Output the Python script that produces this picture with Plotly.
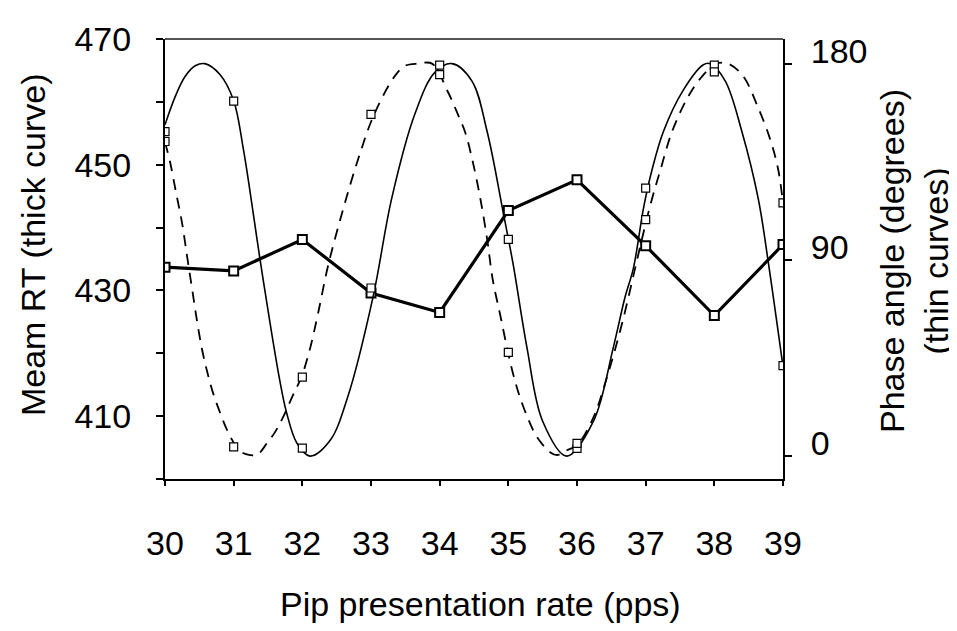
import plotly.graph_objects as go

# ---- data ----
rates = [30, 31, 32, 33, 34, 35, 36, 37, 38, 39]
mean_rt = [433.7, 433.1, 438.1, 429.6, 426.5, 442.7, 447.6, 437.1, 426.0, 437.3]
phase_solid_pts = [148.8, 162.8, 3.7, 77.1, 179.3, 99.4, 3.5, 122.9, 179.3, 41.5]
phase_dashed_pts = [144.3, 4.2, 36.2, 156.7, 175.0, 47.6, 5.8, 108.5, 176.2, 116.1]

solid_curve_x = [30.00, 30.15, 30.29, 30.44, 30.58, 30.80, 31.00, 31.14, 31.24, 31.38,
                 31.53, 31.67, 31.77, 31.92, 32.11, 32.40, 32.66, 33.03, 33.30, 33.64,
                 33.93, 34.18, 34.47, 34.69, 34.93, 35.07, 35.27, 35.50, 35.85, 36.24,
                 36.53, 36.70, 36.82, 36.97, 37.09, 37.26, 37.55, 37.84, 37.94, 38.16,
                 38.40, 38.64, 38.79, 38.93, 39.00]
solid_curve_deg = [152, 165, 174, 179, 180, 175, 163, 141, 121, 91,
                   61, 35, 20, 6, 0, 7, 27, 73, 118, 157,
                   176, 180, 172, 149, 111, 88, 50, 16, 0, 16,
                   50, 73, 86, 114, 131, 149, 168, 179.5, 180, 172,
                   149, 118, 88, 57, 41]

dashed_curve_x = [30.000, 30.073, 30.160, 30.248, 30.320, 30.393, 30.466, 30.539, 30.612, 30.699,
                  30.801, 30.903, 31.034, 31.136, 31.238, 31.340, 31.485, 31.602, 31.718, 31.849,
                  31.995, 32.112, 32.228, 32.374, 32.578, 32.811, 33.044, 33.349, 33.495, 33.684,
                  33.888, 34.121, 34.267, 34.369, 34.471, 34.587, 34.689, 34.776, 34.878, 34.980,
                  35.068, 35.170, 35.315, 35.417, 35.607, 35.709, 35.854, 36.000, 36.233, 36.422,
                  36.655, 36.888, 37.063, 37.209, 37.384, 37.602, 37.791, 38.024, 38.199, 38.417,
                  38.621, 38.810, 38.927, 39.000]
dashed_curve_deg = [144, 135, 121, 107, 92, 77, 62, 49, 39, 29,
                    20, 12, 4.6, 1.4, 0.5, 0.5, 5.9, 11, 17.8, 26.9,
                    37, 49.3, 65.3, 87.2, 111.4, 136, 156.6, 174.4, 179, 180,
                    180, 167, 156.6, 148.8, 136.5, 119, 100, 80.3, 65.3, 49.8,
                    37.9, 26.9, 15.1, 8.7, 1.8, 0.5, 2.7, 5, 17.3, 34.7,
                    60.7, 91.8, 114.6, 130.6, 148.8, 163.9, 173, 179.9, 180, 174.4,
                    161.1, 145.6, 131.9, 116]

rt_ticks = [400, 410, 420, 430, 440, 450, 460, 470]
rt_ticktext = ["", "410", "", "430", "", "450", "", "470"]
phase_ticks = [0, 90, 180]

FONT = "Liberation Sans, Arial, Helvetica, sans-serif"
FS = 34

fig = go.Figure()

fig.add_trace(go.Scatter(x=solid_curve_x, y=solid_curve_deg, yaxis="y2", mode="lines",
                         line=dict(color="black", width=1.6, shape="spline", smoothing=1.0),
                         showlegend=False, hoverinfo="skip"))
fig.add_trace(go.Scatter(x=dashed_curve_x, y=dashed_curve_deg, yaxis="y2", mode="lines",
                         line=dict(color="black", width=1.8, dash="11px,8px", shape="spline", smoothing=1.0),
                         showlegend=False, hoverinfo="skip"))
fig.add_trace(go.Scatter(x=rates, y=phase_solid_pts, yaxis="y2", mode="markers",
                         marker=dict(symbol="square", size=8, color="white",
                                     line=dict(color="black", width=1.2)),
                         showlegend=False))
fig.add_trace(go.Scatter(x=rates, y=phase_dashed_pts, yaxis="y2", mode="markers",
                         marker=dict(symbol="square", size=8, color="white",
                                     line=dict(color="black", width=1.2)),
                         showlegend=False))
fig.add_trace(go.Scatter(x=rates, y=mean_rt, mode="lines+markers",
                         line=dict(color="black", width=3.2),
                         marker=dict(symbol="square", size=9, color="white",
                                     line=dict(color="black", width=2)),
                         showlegend=False))

fig.update_layout(
    width=949, height=623,
    margin=dict(l=157, r=174, t=29, b=152),
    paper_bgcolor="white", plot_bgcolor="white",
    font=dict(family=FONT, size=FS, color="black"),
    xaxis=dict(range=[30, 39], tickvals=rates, ticks="outside", ticklen=5, tickwidth=1.5,
               tickcolor="black", showline=True, linewidth=2, linecolor="black",
               showgrid=False, zeroline=False, ticklabelstandoff=28,
               tickfont=dict(size=FS)),
    yaxis=dict(range=[400, 470], tickvals=rt_ticks, ticktext=rt_ticktext, ticks="outside",
               ticklen=7, tickwidth=1.5, tickcolor="black", showline=True, linewidth=2,
               linecolor="black", showgrid=False, zeroline=False, ticklabelstandoff=18,
               tickfont=dict(size=FS)),
    yaxis2=dict(range=[-10.5, 191.3], overlaying="y", side="right", anchor="x",
                tickvals=phase_ticks, ticks="outside", ticklen=7, tickwidth=1.5,
                tickcolor="black", showline=True, linewidth=2, linecolor="black",
                showgrid=False, zeroline=False, ticklabelstandoff=12,
                ticklabelshift=-13, tickfont=dict(size=FS)),
    shapes=[dict(type="line", xref="paper", yref="paper", x0=0, x1=1, y0=1, y1=1,
                 line=dict(color="#555555", width=2))],
    annotations=[
        dict(text="Meam RT (thick curve)", xref="paper", yref="paper", x=-0.2136, y=0.534,
             textangle=-90, showarrow=False, xanchor="center", yanchor="middle",
             font=dict(size=FS)),
        dict(text="Phase angle (degrees)<br>(thin curves)", xref="paper", yref="paper",
             x=1.212, y=0.4955, textangle=-90, showarrow=False, xanchor="center",
             yanchor="middle", font=dict(size=FS)),
        dict(text="Pip presentation rate (pps)", xref="paper", yref="paper", x=0.51, y=-0.285,
             showarrow=False, xanchor="center", yanchor="middle", font=dict(size=FS)),
    ],
)

fig.write_html("out.html")
